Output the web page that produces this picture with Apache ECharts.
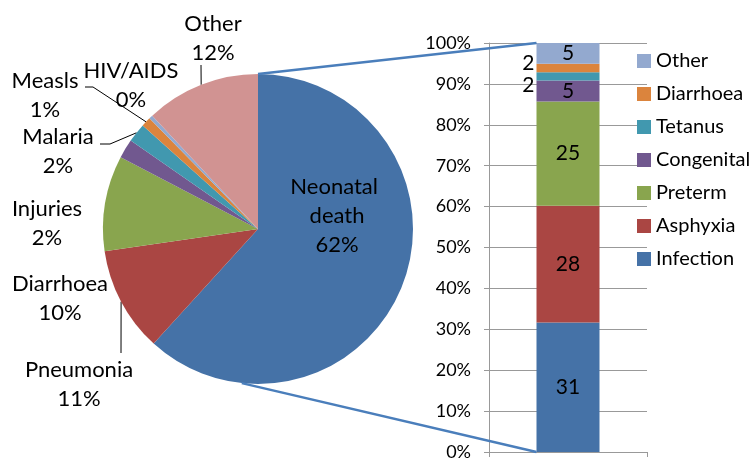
<!DOCTYPE html>
<html>
<head>
<meta charset="utf-8">
<script src="https://cdn.jsdelivr.net/npm/echarts@6/dist/echarts.min.js"></script>
<style>
  html, body { margin: 0; padding: 0; background: #fff; }
  #chart { width: 753px; height: 461px; }
</style>
</head>
<body>
<div id="chart"></div>
<script>
// Causes of under-five deaths (share, %)
const causeNames = ['Neonatal death', 'Pneumonia', 'Diarrhoea', 'Injuries', 'Malaria', 'Measls', 'HIV/AIDS', 'Other'];
const causeShares = [62, 11, 10, 2, 2, 1, 0.4, 12];
const causeColors = ['#4572A7', '#AA4643', '#89A54E', '#71588F', '#4198AF', '#DB843D', '#93A9CF', '#D19392'];

// Breakdown of neonatal deaths (stacked to 100%)
const neonatalNames = ['Infection', 'Asphyxia', 'Preterm', 'Congenital', 'Tetanus', 'Diarrhoea', 'Other'];
const neonatalValues = [31, 28, 25, 5, 2, 2, 5];
const neonatalColors = ['#4572A7', '#AA4643', '#89A54E', '#71588F', '#4198AF', '#DB843D', '#93A9CF'];

const FONT = 'Lato';
const GRID_GRAY = '#999999';
const PIE_CENTER = [258, 229];
const PIE_RADIUS = 155;
const BAR_WIDTH = 63;

// Where each pie label sits, and where its leader line ends next to the text
const pieLabelSpots = {
  'Neonatal death': { x: 337, y: 216 },
  'Pneumonia': { x: 79, y: 384, bend: [121, 353], end: [121, 353] },
  'Diarrhoea': { x: 60, y: 298 },
  'Injuries': { x: 47, y: 223 },
  'Malaria': { x: 58, y: 151, bend: [110, 144], end: [100, 144] },
  'Measls': { x: 45, y: 95, bend: [93, 87], end: [85, 87] },
  'HIV/AIDS': { x: 131, y: 85 },
  'Other': { x: 213, y: 38, bend: [201, 65], end: [201, 65] }
};

const neonatalTotal = neonatalValues.reduce((a, b) => a + b, 0);

const pieData = causeNames.map((name, i) => {
  const spot = pieLabelSpots[name];
  const item = {
    name: name,
    value: causeShares[i],
    itemStyle: { color: causeColors[i] },
    labelLine: { show: !!spot.end }
  };
  if (name === 'Neonatal death') {
    item.label = { width: 100, overflow: 'break' };
  }
  return item;
});

// Label placement for the two thin bar segments that sit beside the bar
const barLabelSide = {
  'Diarrhoea': { position: 'left', distance: 2, offset: [0, -5] },
  'Tetanus': { position: 'left', distance: 2, offset: [0, 9] }
};

const barSeries = neonatalNames.map((name, i) => {
  const side = barLabelSide[name];
  return {
    name: name,
    type: 'bar',
    stack: 'neonatal',
    barWidth: BAR_WIDTH,
    data: [neonatalValues[i] / neonatalTotal * 100],
    itemStyle: { color: neonatalColors[i] },
    label: Object.assign({
      show: true,
      position: 'inside',
      formatter: () => String(neonatalValues[i]),
      fontFamily: FONT,
      fontSize: 21,
      color: '#000'
    }, side || {})
  };
});

const chart = echarts.init(document.getElementById('chart'), null, { renderer: 'canvas' });

const option = {
  animation: false,
  backgroundColor: '#fff',
  textStyle: { fontFamily: FONT },
  legend: {
    data: neonatalNames.slice().reverse(),
    orient: 'vertical',
    left: 637,
    top: 51,
    padding: 0,
    itemWidth: 14,
    itemHeight: 14,
    itemGap: 13,
    icon: 'rect',
    selectedMode: false,
    textStyle: { fontFamily: FONT, fontSize: 20, lineHeight: 20, color: '#000' }
  },
  grid: { left: 489, right: 106, top: 43, bottom: 8, containLabel: false },
  xAxis: {
    type: 'category',
    data: [''],
    axisLine: { show: true, lineStyle: { color: GRID_GRAY, width: 1 } },
    axisTick: { show: true, length: 5, lineStyle: { color: GRID_GRAY } },
    axisLabel: { show: false },
    splitLine: { show: false }
  },
  yAxis: {
    type: 'value',
    min: 0,
    max: 100,
    interval: 10,
    axisLine: { show: true, lineStyle: { color: GRID_GRAY, width: 1 } },
    axisTick: { show: true, length: 5, lineStyle: { color: GRID_GRAY } },
    axisLabel: { formatter: '{value}%', fontFamily: FONT, fontSize: 18, color: '#000', margin: 18 },
    splitLine: { show: true, lineStyle: { color: GRID_GRAY, width: 1 } }
  },
  series: [
    {
      name: 'Causes',
      type: 'pie',
      center: PIE_CENTER,
      radius: PIE_RADIUS,
      startAngle: 90,
      clockwise: true,
      avoidLabelOverlap: false,
      percentPrecision: 0,
      emphasis: { disabled: true },
      label: {
        show: true,
        position: 'outside',
        formatter: '{b}\n{d}%',
        fontFamily: FONT,
        fontSize: 22,
        lineHeight: 29,
        color: '#000',
        align: 'center'
      },
      labelLine: { show: true, length: 6, length2: 6, lineStyle: { color: '#000', width: 1 } },
      labelLayout: function (p) {
        const spot = pieLabelSpots[causeNames[p.dataIndex]];
        const out = { x: spot.x, y: spot.y, align: 'center', verticalAlign: 'middle', hideOverlap: false };
        if (spot.end && p.labelLinePoints) {
          out.labelLinePoints = [p.labelLinePoints[0].slice(), spot.bend, spot.end];
        }
        return out;
      },
      data: pieData
    }
  ].concat(barSeries)
};

chart.setOption(option);

// Connector lines from the pie to the breakdown bar
const barTop = chart.convertToPixel({ gridIndex: 0 }, [0, 100]);
const barBottom = chart.convertToPixel({ gridIndex: 0 }, [0, 0]);
const barLeft = barTop[0] - BAR_WIDTH / 2;
const pieTop = [PIE_CENTER[0], PIE_CENTER[1] - PIE_RADIUS];
const lowAngle = 186 * Math.PI / 180;
const pieLow = [PIE_CENTER[0] + PIE_RADIUS * Math.sin(lowAngle), PIE_CENTER[1] - PIE_RADIUS * Math.cos(lowAngle)];

chart.setOption({
  graphic: [
    {
      type: 'line', z: 100,
      shape: { x1: pieTop[0], y1: pieTop[1], x2: barLeft, y2: barTop[1] },
      style: { stroke: '#4A7EBB', lineWidth: 2.5 }
    },
    {
      type: 'line', z: 100,
      shape: { x1: pieLow[0], y1: pieLow[1], x2: barLeft, y2: barBottom[1] },
      style: { stroke: '#4A7EBB', lineWidth: 2.5 }
    }
  ]
});
</script>
</body>
</html>
